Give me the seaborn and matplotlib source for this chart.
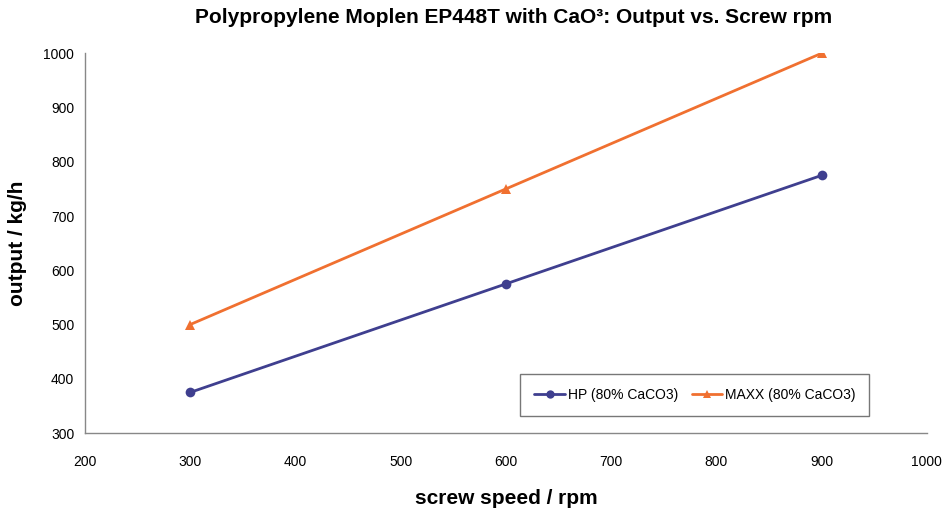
import matplotlib
matplotlib.use("Agg")
import matplotlib.pyplot as plt
import seaborn as sns
import pandas as pd
from matplotlib.lines import Line2D

screw_rpm = [300, 600, 900]
hp_output = [375, 575, 775]
maxx_output = [500, 750, 1000]
series_names = ["HP (80% CaCO3)", "MAXX (80% CaCO3)"]

sns.set_style("white")
plt.rcParams['font.family'] = ['Liberation Sans', 'DejaVu Sans']
plt.rcParams['text.color'] = 'black'
plt.rcParams['axes.labelcolor'] = 'black'
plt.rcParams['xtick.color'] = 'black'
plt.rcParams['ytick.color'] = 'black'

df = pd.DataFrame({
    "rpm": screw_rpm * 2,
    "output": hp_output + maxx_output,
    "series": [series_names[0]] * 3 + [series_names[1]] * 3,
})

fig = plt.figure(figsize=(9.42, 5.12), dpi=100)
ax = fig.add_axes([0.090, 0.154, 0.894, 0.742])
palette = {series_names[0]: "#3f3f8f", series_names[1]: "#f07030"}
sns.lineplot(data=df, x="rpm", y="output", hue="series", style="series",
             markers={series_names[0]: "o", series_names[1]: "^"}, dashes=False,
             palette=palette, linewidth=2, markersize=7, markeredgewidth=0,
             ax=ax, legend=False)

ax.set_xlim(200, 1000)
ax.set_ylim(300, 1000)
ax.set_xticks(range(200, 1001, 100))
ax.set_yticks(range(300, 1001, 100))
ax.tick_params(axis='both', labelsize=10, length=4, direction="out")
ax.tick_params(axis='both', which='major', color="#888888")
ax.tick_params(axis='x', pad=12)
for s in ["top", "right"]:
    ax.spines[s].set_visible(False)
for s in ["left", "bottom"]:
    ax.spines[s].set_color("#888888")
    ax.spines[s].set_linewidth(1)

ax.set_xlabel("screw speed / rpm", fontsize=15, fontweight="bold", labelpad=14)
ax.set_ylabel("output / kg/h", fontsize=15, fontweight="bold", labelpad=12)
fig.suptitle("Polypropylene Moplen EP448T with CaO³: Output vs. Screw rpm",
             x=0.545, y=0.985, fontsize=15, fontweight="bold")

handles = [Line2D([], [], color=palette[series_names[0]], marker="o", lw=2, markersize=6, markeredgewidth=0),
           Line2D([], [], color=palette[series_names[1]], marker="^", lw=2, markersize=6, markeredgewidth=0)]
leg = ax.legend(handles, series_names, loc="center", ncol=2,
                bbox_to_anchor=(0.517 + 0.415 / 2, 0.034 + 0.132 / 2),
                fontsize=10, frameon=True, fancybox=False, edgecolor="#555555",
                handlelength=2.2, handletextpad=0.2, columnspacing=1.0,
                borderpad=1.0, borderaxespad=0)
leg.get_frame().set_linewidth(1)

fig.savefig("out.png", dpi=100)
